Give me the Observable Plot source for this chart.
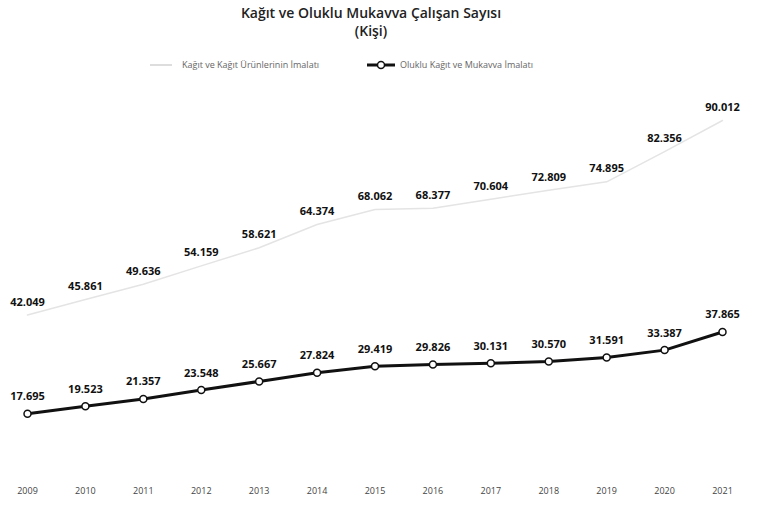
<!DOCTYPE html>
<html><head><meta charset="utf-8">
<script src="https://cdn.jsdelivr.net/npm/d3@7"></script>
<script src="https://cdn.jsdelivr.net/npm/@observablehq/plot@0.6"></script>
<style>
body{margin:0;background:#fff;font-family:"Open Sans",sans-serif;}
#title{position:absolute;left:0;top:4px;width:742px;text-align:center;font-size:14px;font-weight:600;color:#222;line-height:18px;}
#legend{position:absolute;left:0;top:57px;width:758px;height:16px;font-size:9px;color:#666;}
#chart{position:absolute;left:0;top:78px;}
</style></head>
<body>
<div id="title">Kağıt ve Oluklu Mukavva Çalışan Sayısı<br>(Kişi)</div>
<div id="legend"></div>
<div id="chart"></div>
<script>
const years = [2009,2010,2011,2012,2013,2014,2015,2016,2017,2018,2019,2020,2021];
const seriesNames = ["Kağıt ve Kağıt Ürünlerinin İmalatı","Oluklu Kağıt ve Mukavva İmalatı"];
const paperValues = [42049,45861,49636,54159,58621,64374,68062,68377,70604,72809,74895,82356,90012];
const corrugatedValues = [17695,19523,21357,23548,25667,27824,29419,29826,30131,30570,31591,33387,37865];

const fmt = d3.formatLocale({decimal:",",thousands:".",grouping:[3],currency:["","₺"]}).format(",d");
const paper = years.map((y,i)=>({year:y,value:paperValues[i]}));
const corr = years.map((y,i)=>({year:y,value:corrugatedValues[i]}));

// legend
const lg = document.getElementById("legend");
lg.innerHTML = `
<svg width="758" height="16" style="position:absolute;left:0;top:0">
  <line x1="150" x2="172" y1="8" y2="8" stroke="#ddd" stroke-width="2"/>
  <text x="182" y="11" font-size="9" fill="#666" font-family="Open Sans">${seriesNames[0]}</text>
  <line x1="367" x2="395" y1="8" y2="8" stroke="#111" stroke-width="3"/>
  <circle cx="381" cy="8" r="3.5" fill="#fff" stroke="#111" stroke-width="1.5"/>
  <text x="400" y="11" font-size="9" fill="#666" font-family="Open Sans">${seriesNames[1]}</text>
</svg>`;

const chart = Plot.plot({
  width: 758,
  height: 435,
  marginTop: 42,
  marginBottom: 28,
  marginLeft: 27,
  marginRight: 36,
  style: {fontFamily: "Open Sans", fontSize: "9px", color: "#444", background: "#fff"},
  x: {type: "linear", domain: [2009, 2021], ticks: years, tickFormat: d => String(d), tickSize: 0, tickPadding: 2, label: null},
  y: {domain: [0, 90012], axis: null},
  marks: [
    Plot.line(paper, {x: "year", y: "value", stroke: "#e4e4e4", strokeWidth: 1.5}),
    Plot.text(paper, {x: "year", y: "value", text: d => fmt(d.value), dy: -13, fontWeight: "bold", fontSize: 11, fill: "#111"}),
    Plot.line(corr, {x: "year", y: "value", stroke: "#111", strokeWidth: 3}),
    Plot.dot(corr, {x: "year", y: "value", r: 3.5, fill: "#fff", stroke: "#111", strokeWidth: 1.5}),
    Plot.text(corr, {x: "year", y: "value", text: d => fmt(d.value), dy: -17, fontWeight: "bold", fontSize: 11, fill: "#111"})
  ]
});
document.getElementById("chart").appendChild(chart);
</script>
</body></html>
